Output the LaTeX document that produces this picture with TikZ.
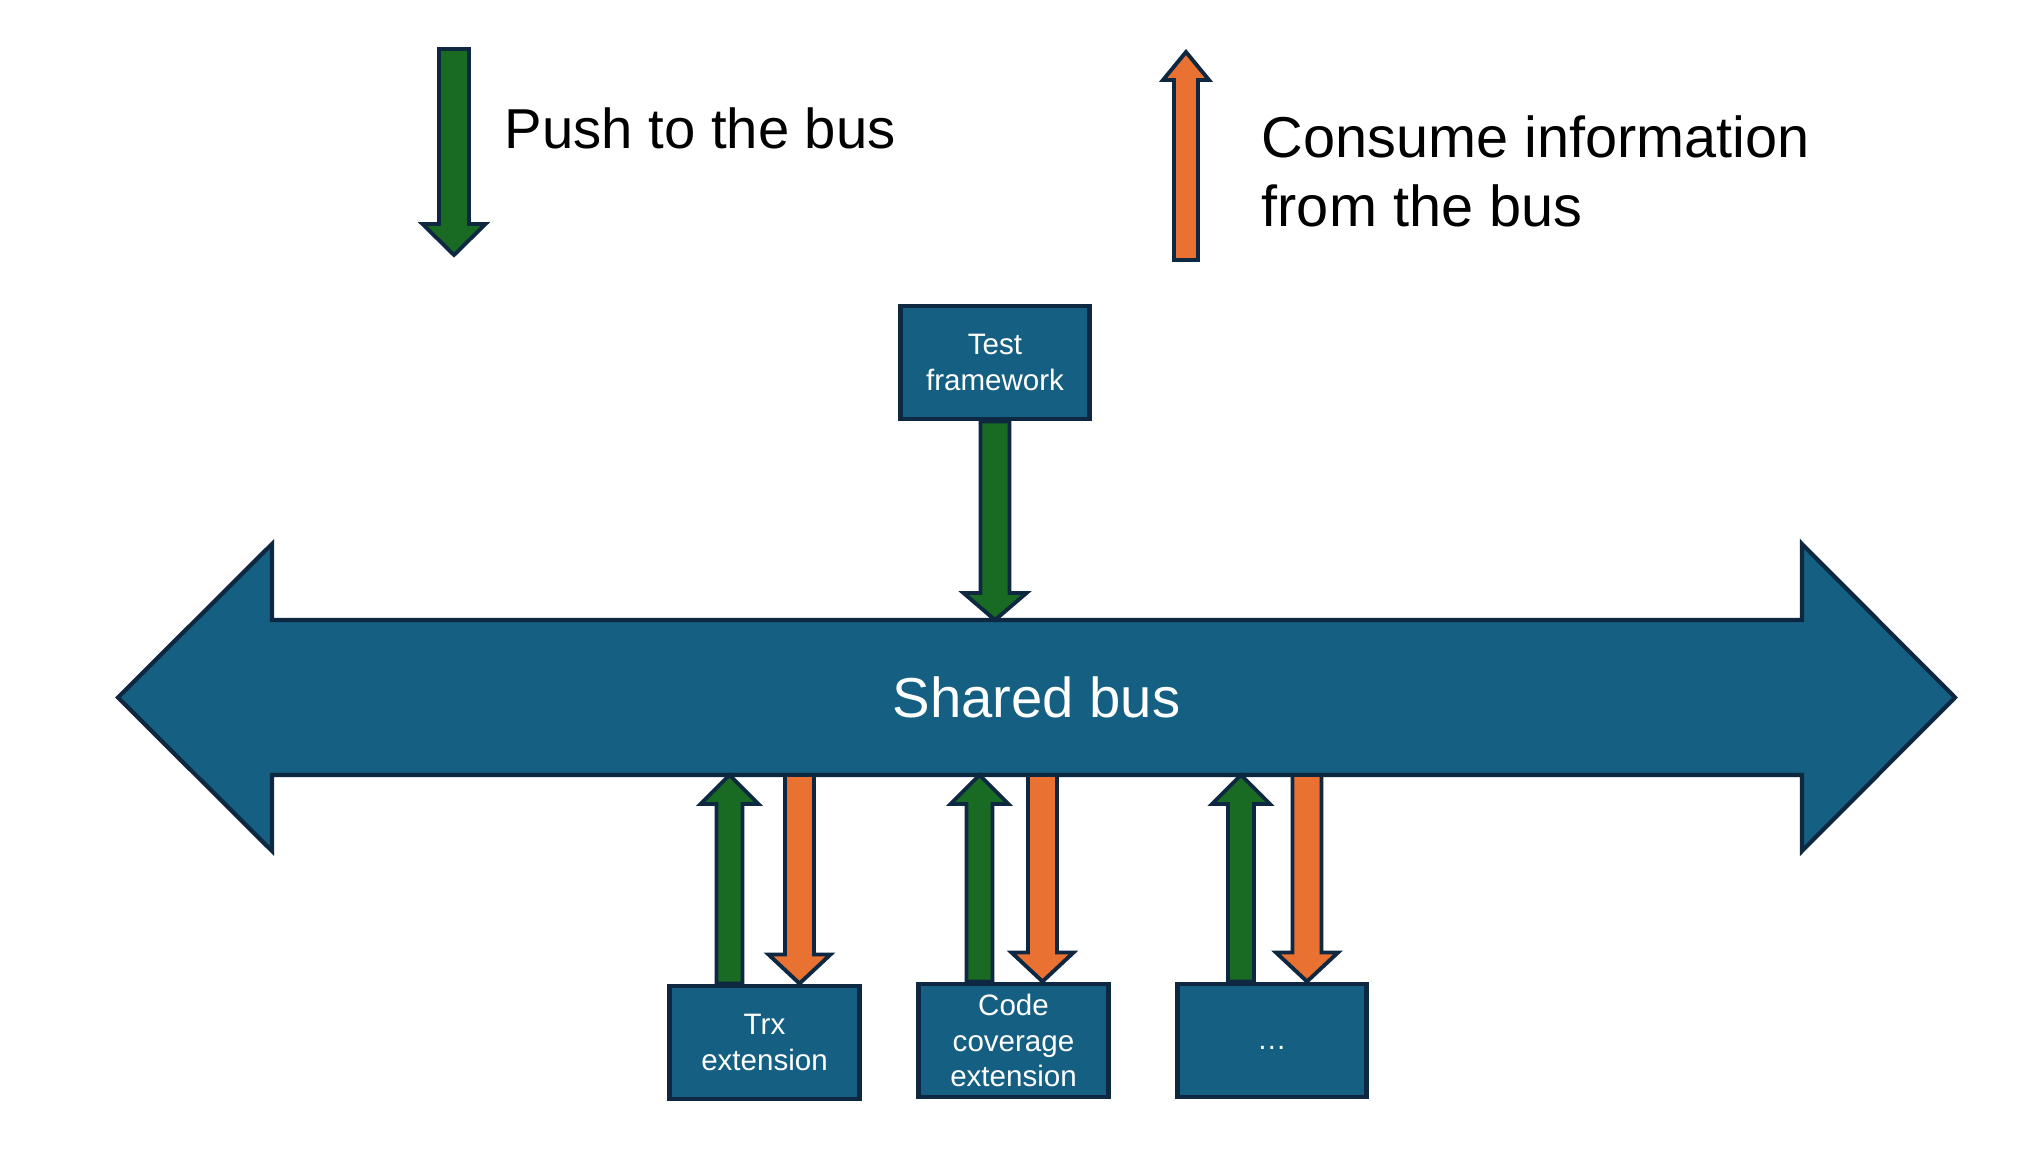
\documentclass[tikz,border=0pt]{standalone}
\usepackage{fontspec}
\setmainfont{Liberation Sans}
\usepackage{tikz}
\usetikzlibrary{calc}
\definecolor{busink}{HTML}{156082}
\definecolor{edgeink}{HTML}{0E2841}
\definecolor{pushgr}{HTML}{196B24}
\definecolor{consor}{HTML}{E97132}
% block arrow: from, to, half shaft, half head, head length
\newcommand\blockar[6][]{%
 \draw[#1] ($(#2)!#4!90:(#3)$) -- ($(#3)!#6!(#2)!#4!-90:(#2)$) -- ($(#3)!#6!(#2)!#5!-90:(#2)$)
  -- (#3) -- ($(#3)!#6!(#2)!#5!90:(#2)$) -- ($(#3)!#6!(#2)!#4!90:(#2)$) -- ($(#2)!#4!-90:(#3)$) -- cycle;}

\begin{document}
\begin{tikzpicture}[x=0.01cm,y=-0.01cm,
 pushar/.style={draw=edgeink,fill=pushgr,line width=1.1pt},
 consar/.style={draw=edgeink,fill=consor,line width=1.1pt},
 unit/.style={draw=edgeink,fill=busink,line width=1.4pt,text=white,align=center,
  minimum width=1.89cm,minimum height=1.13cm,inner sep=0pt,font=\fontsize{8.4}{10}\selectfont},
 big/.style={inner sep=0pt,font=\fontsize{16}{19.9}\selectfont}]
\useasboundingbox (0,0) rectangle (2035,1173);
\fill[white] (0,0) rectangle (2035,1173);
\draw[edgeink,fill=busink,line width=1.2pt] (118,697.5) -- (272,544) -- (272,620) coordinate (bustop)
 -- (1802,620) -- (1802,544) -- (1955,697.5) -- (1802,851) -- (1802,775)
 -- (272,775) coordinate (busbot) -- (272,851) -- cycle;
\node[big,text=white] (bus) at (1036.5,697.5) {Shared bus};
\coordinate (pushtop) at (454,49);
\coordinate (pushtip) at (454,255);
\blockar[pushar]{pushtop}{pushtip}{0.15cm}{0.315cm}{0.31cm}
\node[big,anchor=base west] (pushtxt) at (504,149) {Push to the bus};
\coordinate (constail) at (1186,260);
\coordinate (constip) at (1186,52);
\blockar[consar]{constail}{constip}{0.12cm}{0.23cm}{0.28cm}
\node[big,anchor=base west,align=left,font=\fontsize{16.4}{19.9}\selectfont] (constxt) at (1261,227)
 {Consume information\\from the bus};
\node[unit] (testfw) at (995,362.5) {Test\\framework};
\coordinate (testhit) at (testfw.south |- bustop);
\blockar[pushar]{testfw.south}{testhit}{0.145cm}{0.315cm}{0.27cm}
\foreach \n/\x/\y/\t in {trx/764.5/1042.5/{Trx\\extension},cover/1013.5/1040.5/{Code\\coverage\\extension},
  more/1272/1040.5/{\raisebox{-0.09cm}[0pt][0pt]{\ldots}}}
 \node[unit] (\n) at (\x,\y) {\t};
\foreach \n/\gx/\ox in {trx/-35/35,cover/-34/29,more/-31/35} {
 \coordinate (g\n) at ($(\n.north)+(\gx,0)$);
 \coordinate (ge\n) at (g\n |- busbot);
 \coordinate (o\n) at ($(\n.north)+(\ox,0)$);
 \coordinate (oe\n) at (o\n |- busbot);
 \blockar[pushar]{g\n}{ge\n}{0.13cm}{0.29cm}{0.29cm}
 \blockar[consar]{oe\n}{o\n}{0.145cm}{0.31cm}{0.29cm}
}
\end{tikzpicture}
\end{document}
